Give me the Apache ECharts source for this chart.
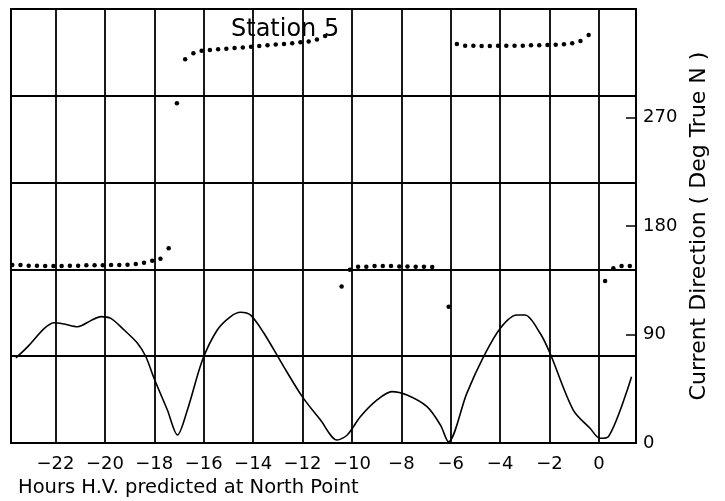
<!DOCTYPE html>
<html>
<head>
<meta charset="utf-8">
<script src="https://cdn.jsdelivr.net/npm/echarts@6/dist/echarts.min.js"></script>
<style>
html,body{margin:0;padding:0;background:#fff;}
#main{width:725px;height:501px;}
</style>
</head>
<body>
<div id="main"></div>
<script>
// hour ticks (hours relative to H.V. at North Point)
var hourTicks = [-22, -20, -18, -16, -14, -12, -10, -8, -6, -4, -2, 0];
var dirTicks = [0, 90, 180, 270];

// current speed trace [hour, speed]
var speed = [
  [-23.60, 0.49], [-23.12, 0.555], [-22.45, 0.66], [-22.05, 0.693], [-21.64, 0.685],
  [-21.10, 0.67], [-20.57, 0.705], [-20.16, 0.728], [-19.76, 0.718], [-19.22, 0.651],
  [-18.68, 0.575], [-18.34, 0.497], [-18.01, 0.373], [-17.47, 0.19], [-17.06, 0.046],
  [-16.66, 0.19], [-16.05, 0.478], [-15.45, 0.651], [-14.91, 0.728], [-14.51, 0.753],
  [-14.10, 0.737], [-13.56, 0.632], [-12.76, 0.44], [-12.01, 0.267], [-11.27, 0.132],
  [-10.60, 0.017], [-10.19, 0.046], [-9.66, 0.151], [-8.98, 0.248], [-8.38, 0.296],
  [-7.77, 0.276], [-6.96, 0.209], [-6.42, 0.104], [-6.09, 0.007], [-5.35, 0.286],
  [-4.67, 0.497], [-4.00, 0.66], [-3.33, 0.737], [-2.99, 0.737], [-2.38, 0.632],
  [-1.98, 0.517], [-1.04, 0.19], [-0.36, 0.085], [0.04, 0.027], [0.38, 0.036],
  [1.32, 0.382]
];

// current direction, one reading every 20 minutes from -23.75 h
var dirStart = -23.75;
var dirStep = 1 / 3;
var direction = [
  147.7, 147.7, 147.1, 147.1, 146.8, 146.8, 146.8, 147.1, 147.1, 147.4,
  147.4, 147.4, 147.7, 147.7, 147.9, 148.5, 149.6, 151.2, 152.9, 161.5,
  281.8, 318.3, 323.3, 325.4, 326.0, 326.6, 327.1, 327.7, 328.1, 328.7,
  329.3, 329.9, 330.5, 331.0, 331.6, 332.4, 333.0, 334.7, 337.6, null,
  129.9, 143.8, 146.3, 146.2, 146.8, 146.8, 146.8, 146.5, 146.5, 146.2,
  146.2, 146.0, null, 113.1, 331.0, 329.6, 329.6, 329.3, 329.3, 329.6,
  329.6, 329.6, 329.6, 329.9, 329.9, 330.1, 330.4, 330.7, 331.6, 333.5,
  338.4, null, 134.4, 144.9, 146.8, 146.8
];

var dirData = [];
for (var i = 0; i < direction.length; i++) {
  if (direction[i] !== null) dirData.push([dirStart + i * dirStep, direction[i]]);
}

var font = 'DejaVu Sans';
myChart = echarts.init(document.getElementById('main'));
myChart.setOption({
  animation: false,
  backgroundColor: '#fff',
  title: {
    text: 'Station 5', left: 226, top: 13,
    textStyle: {fontFamily: font, fontSize: 24, fontWeight: 'normal', color: '#000'}
  },
  graphic: [{
    type: 'text', left: 18, top: 478,
    style: {text: 'Hours H.V. predicted at North Point', fontFamily: font, fontSize: 19.5, fill: '#000'}
  }],
  grid: {left: 11, right: 89, top: 9, bottom: 58, show: true, borderColor: '#000', borderWidth: 2},
  xAxis: {
    type: 'value', min: -23.8, max: 1.5,
    axisLine: {show: false},
    axisTick: {show: false, customValues: hourTicks},
    axisLabel: {
      customValues: hourTicks, margin: 12, color: '#000', fontFamily: font, fontSize: 18,
      formatter: function (v) { return String(v).replace('-', '\u2212'); }
    },
    splitLine: {show: true, lineStyle: {color: '#000', width: 1.8}}
  },
  yAxis: [{
    // speed (unlabelled), gives the horizontal rulings
    type: 'value', min: 0, max: 2.5, interval: 0.5, position: 'left',
    axisLine: {show: false}, axisTick: {show: false}, axisLabel: {show: false},
    splitLine: {show: true, lineStyle: {color: '#000', width: 1.8}}
  }, {
    type: 'value', min: 0, max: 360, interval: 90, position: 'right',
    name: 'Current Direction ( Deg True N )', nameLocation: 'middle', nameRotate: 90, nameGap: 50,
    nameTextStyle: {fontFamily: font, fontSize: 22, color: '#000'},
    axisLine: {show: false},
    axisTick: {show: true, inside: true, length: 10, lineStyle: {color: '#000', width: 1.5}},
    axisLabel: {
      margin: 7, color: '#000', fontFamily: font, fontSize: 18,
      formatter: function (v) { return v >= 360 ? '' : String(v); }
    },
    splitLine: {show: false}
  }],
  series: [{
    name: 'Speed', type: 'line', yAxisIndex: 0, data: speed,
    smooth: 0.3, showSymbol: false, lineStyle: {color: '#000', width: 1.6}
  }, {
    name: 'Direction', type: 'scatter', yAxisIndex: 1, data: dirData,
    symbol: 'circle', symbolSize: 4.5, itemStyle: {color: '#000', opacity: 1}
  }]
});
</script>
</body>
</html>
